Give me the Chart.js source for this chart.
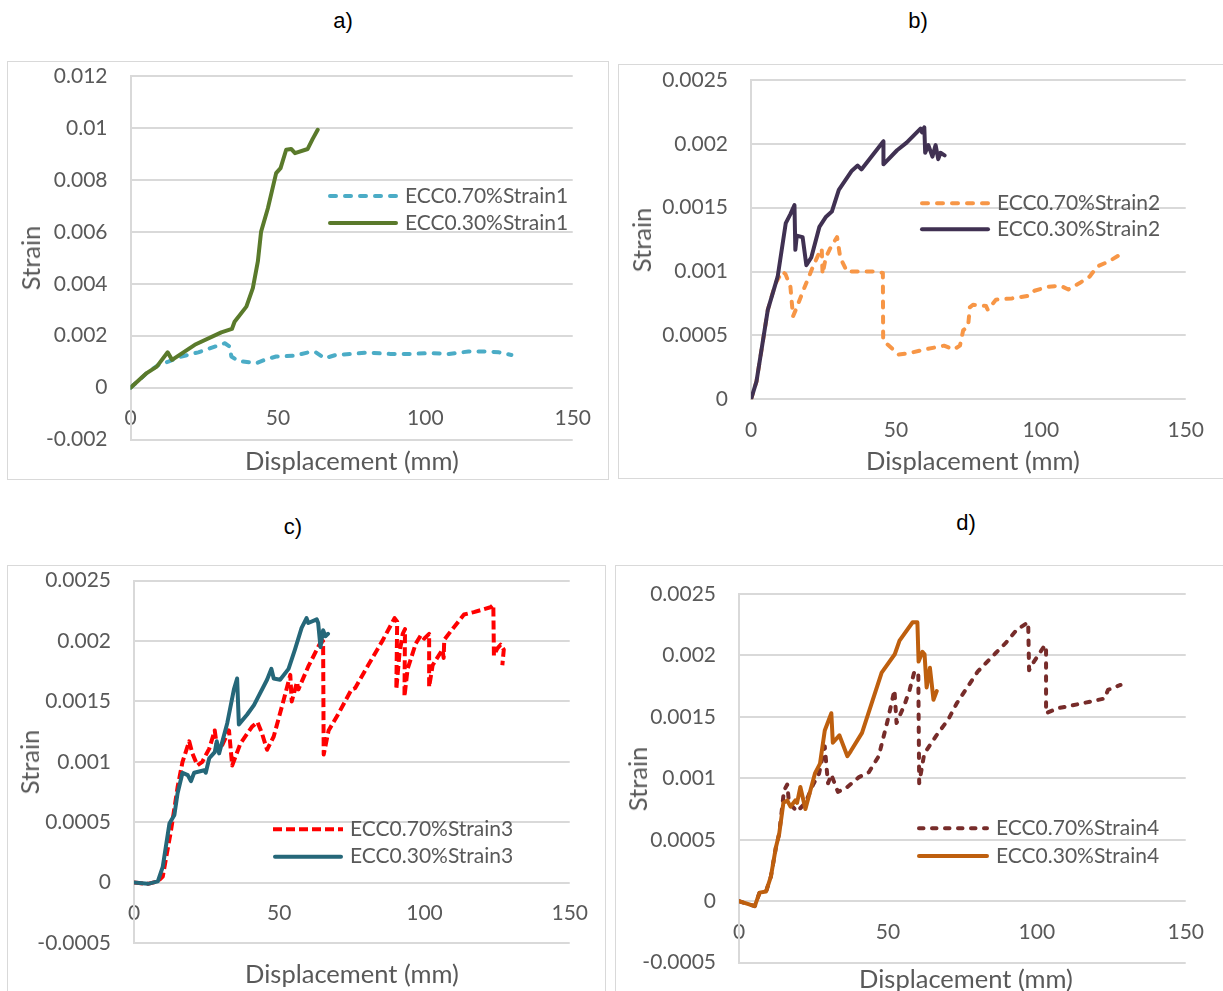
<!DOCTYPE html>
<html><head><meta charset="utf-8">
<script src="https://cdn.jsdelivr.net/npm/chart.js@4.4.1/dist/chart.umd.min.js"></script>
<style>
html,body{margin:0;padding:0;background:#fff;width:1223px;height:991px;overflow:hidden;position:relative;font-family:Lato,sans-serif}
.box{position:absolute;border:1.5px solid #D9D9D9;box-sizing:border-box}
canvas{position:absolute}
.ptitle{position:absolute;font-family:'Liberation Sans',Arial,sans-serif;font-size:22px;color:#000;transform:translate(-50%,-50%);white-space:nowrap}
.ytitle{position:absolute;color:#595959;font-size:25.5px;transform:translate(-50%,-50%) rotate(-90deg);white-space:nowrap;font-family:Lato}
.xtitle{position:absolute;color:#595959;font-size:25.5px;transform:translate(-50%,-50%);white-space:nowrap;font-family:Lato}
</style>
</head><body>
<div class="box" style="left:7px;top:61px;width:602px;height:419px"></div>
<div class="box" style="left:618px;top:64px;width:606px;height:415px"></div>
<div class="box" style="left:7px;top:565px;width:599px;height:440px"></div>
<div class="box" style="left:615px;top:565px;width:609px;height:440px"></div>
<canvas id="ca" width="602" height="419" style="left:7px;top:61px"></canvas>
<canvas id="cb" width="604" height="415" style="left:618px;top:64px"></canvas>
<canvas id="cc" width="599" height="430" style="left:7px;top:565px"></canvas>
<canvas id="cd" width="607" height="430" style="left:615px;top:565px"></canvas>
<div class="ptitle" style="left:343px;top:21px">a)</div>
<div class="ptitle" style="left:918px;top:21px">b)</div>
<div class="ptitle" style="left:293px;top:527px">c)</div>
<div class="ptitle" style="left:966px;top:523px">d)</div>
<div class="ytitle" style="left:30px;top:258px">Strain</div>
<div class="ytitle" style="left:641px;top:240px">Strain</div>
<div class="ytitle" style="left:29px;top:762px">Strain</div>
<div class="ytitle" style="left:637px;top:779px">Strain</div>
<div class="xtitle" style="left:352px;top:460px">Displacement (mm)</div>
<div class="xtitle" style="left:973px;top:460px">Displacement (mm)</div>
<div class="xtitle" style="left:352px;top:973px">Displacement (mm)</div>
<div class="xtitle" style="left:966px;top:978px">Displacement (mm)</div>
<script>
// ---------- tick values ----------
const xTicks = [0, 50, 100, 150];
const yTicksA = [-0.002, 0, 0.002, 0.004, 0.006, 0.008, 0.01, 0.012];
const yTicksB = [0, 0.0005, 0.001, 0.0015, 0.002, 0.0025];
const yTicksCD = [-0.0005, 0, 0.0005, 0.001, 0.0015, 0.002, 0.0025];

// ---------- panel a ----------
const a70X = [0, 5.5, 9.4, 12.8, 17.3, 23, 28.6, 32, 33.7, 34.2, 36.5, 42.7, 45.5, 49.4, 55.6, 61.5, 63, 65.8, 69.7, 75, 80.2, 88.2, 94.8, 101.4, 108, 114.6, 121.2, 125, 129.2];
const a70Y = [0, 0.00056, 0.00087, 0.001, 0.0012, 0.00136, 0.00158, 0.00171, 0.00158, 0.0012, 0.00103, 0.00094, 0.00107, 0.0012, 0.00123, 0.00139, 0.00135, 0.00113, 0.00126, 0.0013, 0.00135, 0.0013, 0.0013, 0.00133, 0.0013, 0.00139, 0.00139, 0.00136, 0.00126];
const a30X = [0, 5.5, 8.9, 12.6, 14.1, 21.8, 30.8, 34.4, 35.3, 39.3, 41.5, 43.2, 44.3, 46.6, 49.4, 50.9, 52.8, 54.5, 55.8, 60.1, 61.8, 63.5];
const a30Y = [0, 0.00056, 0.00081, 0.00136, 0.00107, 0.00165, 0.00213, 0.00226, 0.00254, 0.00312, 0.00383, 0.00486, 0.00601, 0.00691, 0.00826, 0.00845, 0.00916, 0.00919, 0.00903, 0.00919, 0.00958, 0.00993];

// ---------- panel b ----------
const b70X = [0, 1.9, 5.8, 6.8, 8.5, 10.8, 11.9, 13.6, 14.5, 15.8, 18, 21.4, 23.6, 24.4, 24.7, 25.8, 27.5, 29.7, 30.8, 33.1, 42.5, 45.5, 45.6, 46.6, 51, 54.3, 59.9, 66.6, 69.9, 72.1, 73.2, 74.9, 75.5, 76.6, 81.1, 81.7, 84.5, 90, 95.6, 97.8, 102.3, 106.7, 109.5, 113.4, 116.8, 119.5, 123.5, 127.9];
const b70Y = [0, 0.00014, 0.0007, 0.00078, 0.00091, 0.001, 0.00098, 0.00088, 0.00065, 0.00072, 0.00085, 0.00104, 0.00115, 0.00118, 0.00098, 0.00111, 0.00119, 0.00127, 0.00111, 0.001, 0.001, 0.00099, 0.00046, 0.00044, 0.00035, 0.00036, 0.00039, 0.00042, 0.00039, 0.00042, 0.00054, 0.00057, 0.00072, 0.00074, 0.00073, 0.0007, 0.00078, 0.00079, 0.00081, 0.00085, 0.00088, 0.00089, 0.00086, 0.00091, 0.00096, 0.00104, 0.00108, 0.00114];
const b30X = [0, 1.9, 5.8, 9.2, 12, 13.6, 15, 15.3, 15.8, 17.8, 19.1, 20.8, 23.6, 25.9, 27.9, 30.3, 34.8, 36.8, 38.1, 45.7, 45.7, 50.4, 53.7, 58.5, 59, 59.8, 60.1, 61.2, 62.6, 63.7, 64.6, 65.4, 66.8];
const b30Y = [0, 0.00014, 0.0007, 0.00096, 0.00138, 0.00145, 0.00152, 0.00117, 0.00128, 0.00127, 0.00105, 0.00111, 0.00135, 0.00143, 0.00147, 0.00164, 0.00179, 0.00183, 0.0018, 0.00202, 0.00184, 0.00195, 0.00201, 0.00212, 0.00209, 0.00213, 0.00193, 0.00199, 0.0019, 0.00199, 0.00188, 0.00193, 0.00191];

// ---------- panel c ----------
const c70X = [0, 4.8, 8.2, 9.9, 12.8, 15, 16.7, 19, 20.1, 21.8, 23.5, 25.9, 27.8, 28.7, 30.4, 32.7, 33.8, 36.6, 40.6, 42.5, 44, 45.8, 48.1, 51.5, 53.8, 54.3, 56.1, 56.6, 60, 63.8, 65.1, 65.3, 67, 70.4, 74.9, 76.1, 80.6, 85.7, 89.7, 90.6, 90.3, 91.4, 92.5, 93.3, 93.1, 94.2, 97, 98.8, 99.9, 101.6, 101.6, 102.8, 106.2, 106.6, 106.8, 109, 113.6, 117, 122.7, 123.7, 123.9, 125.1, 126.2, 127.3, 126.8];
const c70Y = [0, -0.00001, 0.00001, 0.00005, 0.00044, 0.00079, 0.001, 0.00117, 0.00107, 0.00097, 0.001, 0.00111, 0.00126, 0.0011, 0.00114, 0.00126, 0.00097, 0.00115, 0.00129, 0.00133, 0.00124, 0.0011, 0.00121, 0.00151, 0.00172, 0.0015, 0.00166, 0.0016, 0.00179, 0.00197, 0.002, 0.00106, 0.00126, 0.0014, 0.0016, 0.00161, 0.0018, 0.00201, 0.00219, 0.00216, 0.0016, 0.0019, 0.00206, 0.0021, 0.00154, 0.00177, 0.00198, 0.00205, 0.00202, 0.00206, 0.00162, 0.0018, 0.00193, 0.00186, 0.00201, 0.00208, 0.00222, 0.00224, 0.00228, 0.0023, 0.00188, 0.00194, 0.00197, 0.00193, 0.0018];
const c30X = [0, 4.8, 8.2, 9.9, 12.2, 13.9, 15, 16.7, 18.5, 19.6, 20.7, 24.2, 24.7, 25.9, 27.8, 28.5, 29.3, 32.1, 34.4, 35.5, 36.1, 38.9, 41.3, 45.8, 47.3, 48.1, 50.3, 53.2, 55.4, 57.7, 59.4, 60, 62.9, 63.4, 64.2, 65.1, 65.9, 66.8];
const c30Y = [0, -0.00001, 0.00001, 0.00013, 0.00049, 0.00056, 0.00074, 0.00091, 0.00089, 0.00084, 0.00091, 0.00093, 0.00091, 0.00103, 0.00108, 0.00117, 0.00107, 0.00132, 0.0016, 0.00169, 0.00131, 0.00139, 0.00147, 0.00168, 0.00177, 0.00169, 0.00168, 0.00177, 0.00193, 0.00211, 0.00219, 0.00215, 0.00218, 0.00215, 0.00195, 0.00209, 0.00204, 0.00206];

// ---------- panel d ----------
const d70X = [0, 5.3, 6.9, 9.1, 10.7, 12.4, 13.5, 15.1, 16.2, 16.8, 19.5, 22.3, 24.9, 26.9, 28.8, 29.4, 29.9, 31, 33.2, 35.9, 40.3, 43.6, 46.9, 50, 52.2, 52.9, 55.6, 57.3, 58.9, 60.2, 60.5, 62.2, 66.3, 70.3, 73.1, 76.9, 80.2, 86.2, 89.5, 93.3, 97.1, 97.4, 98.8, 102.6, 103.1, 103.1, 107, 115.2, 122.8, 123.9, 125.9, 128.1];
const d70Y = [0, -0.00004, 0.00007, 0.00008, 0.0002, 0.00044, 0.00055, 0.0009, 0.00095, 0.0008, 0.00073, 0.0008, 0.00095, 0.00104, 0.00126, 0.00109, 0.00096, 0.00103, 0.00089, 0.00092, 0.00101, 0.00105, 0.00118, 0.00148, 0.00172, 0.00145, 0.0016, 0.00172, 0.00187, 0.00186, 0.00096, 0.0012, 0.00135, 0.00148, 0.00161, 0.00175, 0.00187, 0.00202, 0.0021, 0.00221, 0.00227, 0.00188, 0.00194, 0.00208, 0.00208, 0.00153, 0.00157, 0.00161, 0.00165, 0.00172, 0.00174, 0.00176];
const d30X = [0, 5.3, 6.9, 9.1, 10.7, 12.4, 13.5, 14.9, 16.2, 17.3, 18.9, 19.5, 20.6, 22.3, 25.5, 27.2, 28.8, 31, 31.5, 33.7, 36.4, 37.5, 41.3, 47.9, 52.3, 53.9, 58.3, 59.9, 60.3, 61.6, 62.3, 63, 64.1, 64.8, 65.3, 66.4];
const d30Y = [0, -0.00004, 0.00007, 0.00008, 0.0002, 0.00044, 0.00055, 0.0008, 0.00082, 0.00077, 0.00082, 0.0008, 0.00093, 0.00075, 0.00104, 0.00112, 0.00139, 0.00153, 0.00129, 0.00135, 0.00118, 0.00122, 0.00137, 0.00186, 0.00201, 0.00212, 0.00227, 0.00227, 0.00195, 0.00203, 0.00201, 0.00174, 0.0019, 0.00175, 0.00164, 0.00171];

const TEXT = '#595959';
Chart.defaults.font.family = 'Lato';

const excelLegend = {
  id: 'excelLegend',
  afterDatasetsDraw(chart, args, o) {
    const ctx = chart.ctx;
    chart.data.datasets.forEach((ds, i) => {
      const y = o.y + i * o.dy;
      ctx.save();
      ctx.strokeStyle = ds.borderColor;
      ctx.lineWidth = ds.borderWidth;
      ctx.lineCap = ds.borderCapStyle;
      ctx.setLineDash(ds.borderDash || []);
      const inset = ds.borderCapStyle === 'round' ? ds.borderWidth / 2 : 0;
      ctx.beginPath();
      ctx.moveTo(o.x + inset, y);
      ctx.lineTo(o.x + o.w - inset, y);
      ctx.stroke();
      ctx.setLineDash([]);
      ctx.fillStyle = TEXT;
      ctx.font = '21px Lato';
      ctx.textBaseline = 'middle';
      ctx.textAlign = 'left';
      ctx.fillText(ds.label, o.x + o.w + 7, y);
      ctx.restore();
    });
  }
};

function fmt(v) { return String(parseFloat(Number(v).toPrecision(6))); }

function makeChart(id, c) {
  const mk = (s, order) => ({
    label: s.label,
    data: s.x.map((x, i) => ({ x: x, y: s.y[i] })),
    borderColor: s.color, borderWidth: 4,
    borderDash: s.dash, borderCapStyle: s.cap, borderJoinStyle: 'round',
    pointRadius: 0, tension: 0, fill: false, order: order
  });
  return new Chart(document.getElementById(id), {
    type: 'line',
    data: { datasets: [mk(c.s70, 1), mk(c.s30, 0)] },
    options: {
      responsive: false, animation: false, devicePixelRatio: 1,
      layout: { padding: { left: 0, top: c.pt, right: c.pr, bottom: c.pb } },
      plugins: { legend: { display: false }, tooltip: { enabled: false }, excelLegend: c.leg },
      scales: {
        x: {
          type: 'linear', min: 0, max: 150, position: { y: 0 },
          afterBuildTicks: s => { s.ticks = xTicks.map(v => ({ value: v })); },
          grid: { display: false, drawTicks: false }, border: { display: false },
          ticks: { padding: 18, color: TEXT, font: { size: 21 }, maxRotation: 0, callback: v => fmt(v) }
        },
        y: {
          type: 'linear', min: c.yt[0], max: c.yt[c.yt.length - 1],
          afterBuildTicks: s => { s.ticks = c.yt.map(v => ({ value: v })); },
          afterFit: s => { s.width = c.yw; s.paddingTop = 0; s.paddingBottom = 0; },
          grid: { color: '#D9D9D9', lineWidth: 2, drawTicks: false },
          border: { color: '#D9D9D9', width: 2 },
          ticks: { padding: 23, color: TEXT, font: { size: 21 }, callback: v => fmt(v) }
        }
      }
    },
    plugins: [excelLegend]
  });
}

makeChart('ca', {
  s70: { label: 'ECC0.70%Strain1', x: a70X, y: a70Y, color: '#4BACC6', dash: [6, 9], cap: 'round' },
  s30: { label: 'ECC0.30%Strain1', x: a30X, y: a30Y, color: '#5A7A2B', dash: [], cap: 'round' },
  yt: yTicksA, yw: 123.5, pt: 15, pr: 35, pb: 40.4,
  leg: { x: 321, y: 135, dy: 27, w: 70 }
});
makeChart('cb', {
  s70: { label: 'ECC0.70%Strain2', x: b70X, y: b70Y, color: '#F79646', dash: [6, 9], cap: 'round' },
  s30: { label: 'ECC0.30%Strain2', x: b30X, y: b30Y, color: '#403152', dash: [], cap: 'round' },
  yt: yTicksB, yw: 133, pt: 16, pr: 22, pb: 79.7,
  leg: { x: 302, y: 139.3, dy: 26, w: 70 }
});
makeChart('cc', {
  s70: { label: 'ECC0.70%Strain3', x: c70X, y: c70Y, color: '#FF0000', dash: [9, 4], cap: 'butt' },
  s30: { label: 'ECC0.30%Strain3', x: c30X, y: c30Y, color: '#256779', dash: [], cap: 'round' },
  yt: yTicksCD, yw: 127, pt: 15.7, pr: 33, pb: 52,
  leg: { x: 266, y: 264.3, dy: 27.4, w: 70 }
});
makeChart('cd', {
  s70: { label: 'ECC0.70%Strain4', x: d70X, y: d70Y, color: '#772C2A', dash: [4.5, 8.5], cap: 'round' },
  s30: { label: 'ECC0.30%Strain4', x: d30X, y: d30Y, color: '#BE5F0E', dash: [], cap: 'round' },
  yt: yTicksCD, yw: 124, pt: 29, pr: 26, pb: 32.3,
  leg: { x: 302, y: 263.3, dy: 27.7, w: 72 }
});
</script>
</body></html>
